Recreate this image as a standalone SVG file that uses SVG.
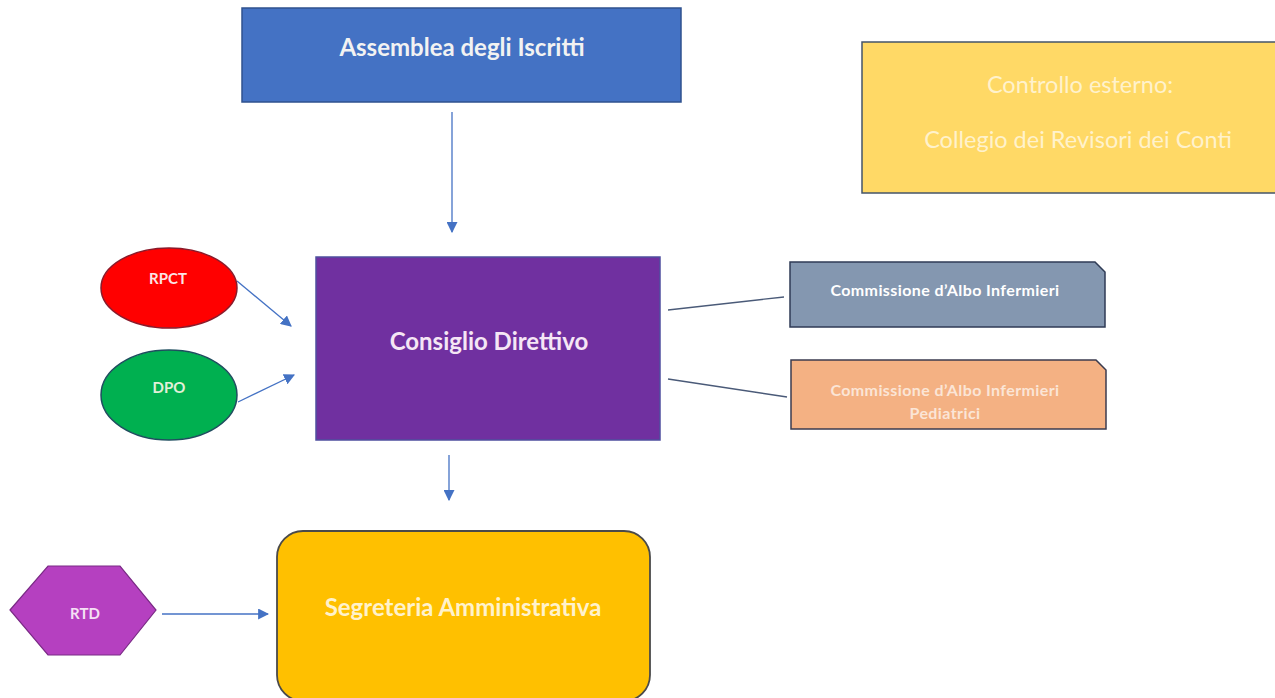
<svg xmlns="http://www.w3.org/2000/svg" width="1275" height="698" viewBox="0 0 1275 698">
<style>
.t{font-family:Lato,"Open Sans","Liberation Sans",sans-serif;font-weight:bold;text-anchor:middle;dominant-baseline:central}
.big{font-size:24px}
.reg{font-size:23.5px;font-weight:normal}
.cm{font-size:16px;letter-spacing:0.4px}
.sm{font-size:15px}
.arr{stroke:#4472C4;stroke-width:1.3;fill:none;marker-end:url(#ah)}
.ln{stroke:#4A5A78;stroke-width:1.3;fill:none}
</style>
<defs>
<marker id="ah" viewBox="0 0 10 10" refX="9" refY="5" markerWidth="11" markerHeight="11" markerUnits="userSpaceOnUse" orient="auto">
<path d="M0,0 L10,5 L0,10 z" fill="#4472C4"/>
</marker>
</defs>
<rect width="1275" height="698" fill="#FFFFFF"/>
<g id="connectors">
<line class="arr" x1="452" y1="112" x2="452" y2="232"/>
<line class="arr" x1="237" y1="281" x2="291" y2="326"/>
<line class="arr" x1="238" y1="402" x2="294" y2="375"/>
<line class="arr" x1="449" y1="455" x2="449" y2="500"/>
<line class="arr" x1="162" y1="614" x2="268" y2="614"/>
<line class="ln" x1="668" y1="310" x2="784" y2="297"/>
<line class="ln" x1="668" y1="379" x2="787" y2="397"/>
</g>
<g id="assemblea">
<rect x="242" y="8" width="439" height="94" fill="#4472C4" stroke="#2F528F" stroke-width="1.5"/>
<text class="t big" x="462" y="46" fill="#F2F2F2">Assemblea degli Iscritti</text>
</g>
<g id="controllo">
<rect x="862" y="42" width="420" height="151" fill="#FFD966" stroke="#44546A" stroke-width="1.5"/>
<text class="t reg" x="1080" y="84" fill="#FFF2CC">Controllo esterno:</text>
<text class="t reg" x="1078" y="139" fill="#FFF2CC">Collegio dei Revisori dei Conti</text>
</g>
<g id="consiglio">
<rect x="316" y="257" width="344" height="183" fill="#7030A0" stroke="#4F4F9F" stroke-width="1.5"/>
<text class="t big" x="489" y="340" fill="#F5E6F5">Consiglio Direttivo</text>
</g>
<g id="rpct">
<ellipse cx="169" cy="288" rx="68" ry="40" fill="#FF0000" stroke="#8B1A2A" stroke-width="1.5"/>
<text class="t sm" x="168" y="278" fill="#FBE5E5">RPCT</text>
</g>
<g id="dpo">
<ellipse cx="169" cy="395" rx="68" ry="45" fill="#00B050" stroke="#1F4E5F" stroke-width="1.5"/>
<text class="t sm" x="169" y="387" fill="#E2F0D9">DPO</text>
</g>
<g id="comm1">
<path d="M790,262 H1095 L1105,272 V327 H790 Z" fill="#8497B0" stroke="#2F3B55" stroke-width="1.5"/>
<text class="t cm" x="945" y="289" fill="#FFFFFF">Commissione d’Albo Infermieri</text>
</g>
<g id="comm2">
<path d="M791,360 H1096 L1106,370 V429 H791 Z" fill="#F4B183" stroke="#3B3B4F" stroke-width="1.5"/>
<text class="t cm" x="945" y="389" fill="#FBE5D6">Commissione d’Albo Infermieri</text>
<text class="t cm" x="945" y="412" fill="#FBE5D6">Pediatrici</text>
</g>
<g id="segreteria">
<rect x="277" y="531" width="373" height="170" rx="26" ry="26" fill="#FFC000" stroke="#4A4A4A" stroke-width="1.8"/>
<text class="t big" x="463" y="606" fill="#FFF2CC">Segreteria Amministrativa</text>
</g>
<g id="rtd">
<polygon points="10,610 48,566 120,566 156,610 120,655 48,655" fill="#B540C0" stroke="#7A2A85" stroke-width="1.2"/>
<text class="t sm" x="85" y="613" fill="#F5E0F5">RTD</text>
</g>
</svg>
